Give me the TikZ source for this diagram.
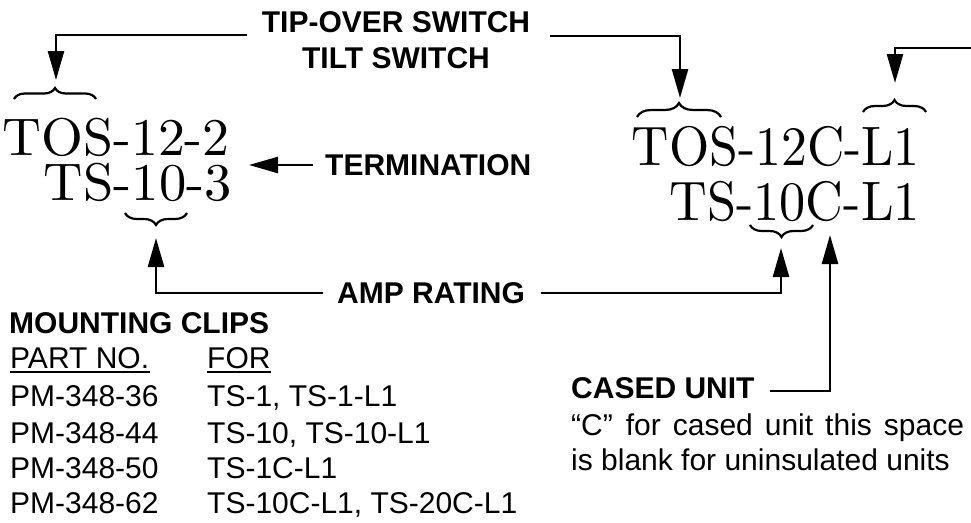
\documentclass[tikz,border=0pt]{standalone}
\usepackage{fontspec}
\usepackage{graphicx}
\newfontfamily\arialf{Liberation Sans}
\newfontfamily\lmten{lmroman10-regular.otf}
\usetikzlibrary{arrows.meta,decorations.pathreplacing}
\begin{document}
\begin{tikzpicture}[x=1pt,y=-1pt,
  sans/.style={font=\arialf\fontsize{30}{36}\selectfont, inner sep=0pt},
  bsans/.style={font=\arialf\bfseries\fontsize{30}{36}\selectfont, inner sep=0pt},
  serifL/.style={font=\lmten\fontsize{53}{60}\selectfont, inner sep=0pt},
  serifR/.style={font=\lmten\fontsize{55.6}{66}\selectfont, inner sep=0pt},
  arr/.style={line width=2.6pt, -{Triangle[length=29pt,width=16pt]}},
  brc/.style={decorate, decoration={brace, amplitude=#1}, line width=2.2pt},
  brc/.default=12pt
]
\useasboundingbox (0,0) rectangle (971,522);

% headings
\node[bsans, anchor=base] (tipover) at (396,32) {TIP-OVER SWITCH};
\node[bsans, anchor=base] (tilt) at (396,68) {TILT SWITCH};
\node[bsans, anchor=base west] (term) at (325,175) {TERMINATION};
\node[bsans, anchor=base west] (amp) at (337,303) {AMP RATING};

% part numbers
\node[serifL, anchor=base east] (l1) at (230,155) {\scalebox{1.015}[1]{TOS-12-2}};
\node[serifL, anchor=base east] (l2) at (232,200) {\scalebox{1.03}[1]{TS-10-3}};
\node[serifR, anchor=base east] (r1) at (920,165) {\scalebox{0.93}[1]{TOS-12C-L1}};
\node[serifR, anchor=base east] (r2) at (920,220) {\scalebox{0.94}[1]{TS-10C-L1}};

% braces
\draw[brc=11pt] (14,99) -- (96,99);
\draw[brc=12pt] (187,213) -- (125,213);
\draw[brc=14pt] (637,117) -- (721,117);
\draw[brc=12pt] (863,112) -- (926,112);
\draw[brc=12pt] (813,225) -- (750,225);

% connector end points
\coordinate (tosLs) at (247,35);
\coordinate (tosLt) at (56,80);
\coordinate (tosRs) at (550,36);
\coordinate (tosRt) at (680,98);
\coordinate (l1s) at (971,48);
\coordinate (l1t) at (895,83);
\coordinate (termS) at (313,165);
\coordinate (termT) at (249,165);
\coordinate (ampLs) at (323,293);
\coordinate (ampLt) at (156,238);
\coordinate (ampRs) at (541,293);
\coordinate (ampRt) at (781,248);
\coordinate (casS) at (770,391);
\coordinate (casT) at (830,235);

\draw[arr] (tosLs) -| (tosLt);
\draw[arr] (tosRs) -| (tosRt);
\draw[arr] (l1s) -| (l1t);
\draw[arr] (termS) -- (termT);
\draw[arr] (ampLs) -| (ampLt);
\draw[arr] (ampRs) -| (ampRt);
\draw[arr] (casS) -| (casT);

% mounting clips table
\node[bsans, anchor=base west] (mc) at (9,333) {MOUNTING CLIPS};
\node[sans, anchor=base west] (pn) at (10,368) {PART NO.};
\node[sans, anchor=base west] (for) at (207,368) {FOR};
\draw[line width=1.6pt] ([yshift=-4pt]pn.base west) -- ([yshift=-4pt,xshift=1pt]pn.base east);
\draw[line width=1.6pt] ([yshift=-4pt]for.base west) -- ([yshift=-4pt]for.base east);

\node[sans, anchor=base west] (p1) at (10,406) {PM-348-36};
\node[sans, anchor=base west] (f1) at (207,406) {TS-1, TS-1-L1};
\node[sans, anchor=base west] (p2) at (10,443) {PM-348-44};
\node[sans, anchor=base west] (f2) at (207,443) {TS-10, TS-10-L1};
\node[sans, anchor=base west] (p3) at (10,478) {PM-348-50};
\node[sans, anchor=base west] (f3) at (207,478) {TS-1C-L1};
\node[sans, anchor=base west] (p4) at (10,513) {PM-348-62};
\node[sans, anchor=base west] (f4) at (207,513) {TS-10C-L1, TS-20C-L1};

% cased unit
\node[bsans, anchor=base west] (cased) at (571,398) {CASED UNIT};
\node[sans, anchor=base west] (c1) at (571,435) {“C”\hspace{13pt}for\hspace{12pt}cased\hspace{12pt}unit\hspace{12pt}this\hspace{12pt}space};
\node[sans, anchor=base west] (c2) at (571,470) {is blank for uninsulated units};
\end{tikzpicture}
\end{document}
